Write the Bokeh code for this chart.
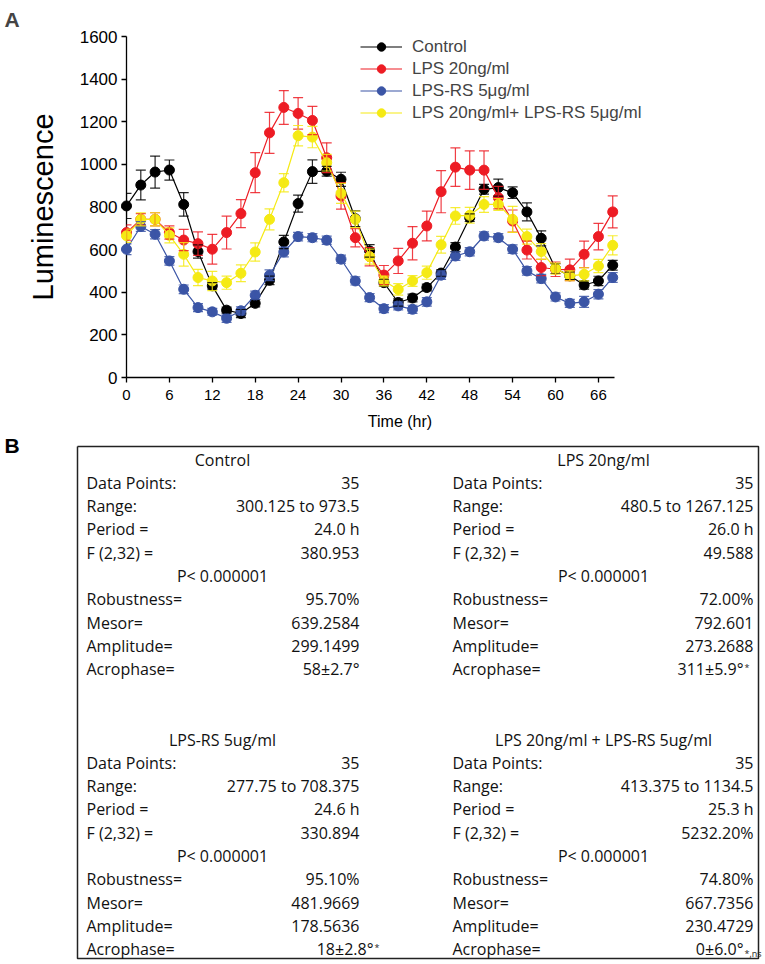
from bokeh.plotting import figure
from bokeh.models import (Range1d, FixedTicker, Whisker, TeeHead, ColumnDataSource,
                          Legend, LegendItem, Title)
from bokeh.layouts import column
from bokeh.embed import file_html
from bokeh.resources import INLINE
from bokeh.core.properties import value

# ---------------- data ----------------
hours = list(range(0, 69, 2))  # 35 time points, every 2 h

control = [805, 903, 964, 973.5, 812, 591, 430, 316, 300.125, 348, 456, 636, 816, 966, 968,
           930, 745, 594, 445, 352, 373, 422, 490, 612, 750, 883, 891, 867, 777, 653,
           511, 477, 434, 453, 527]
control_err = [59, 70, 75, 47, 55, 31, 15, 14, 19, 17, 20, 31, 40, 55, 23, 33, 37, 29, 16, 17,
               18, 16, 15, 21, 18, 23, 40, 27, 42, 35, 23, 18, 19, 22, 23]

lps = [680, 742, 742, 680, 645, 628, 602, 680, 769, 961, 1148, 1267.125, 1239, 1206, 1031,
       852, 656, 567, 480.5, 547, 630, 711, 872, 987, 973, 973, 844, 734, 598, 516,
       508, 505, 578, 661, 777]
lps_err = [36, 27, 31, 31, 50, 55, 70, 77, 66, 94, 96, 79, 74, 66, 70, 62, 43, 43, 45, 59,
           78, 70, 99, 90, 90, 90, 53, 52, 42, 38, 34, 50, 62, 62, 75]

lpsrs = [602, 708.375, 672, 547, 414, 328, 308, 277.75, 313, 386, 480, 589, 661, 656, 644,
         555, 453, 375, 323, 336, 320, 355, 480, 570, 590, 664, 656, 602, 500, 464,
         378, 348, 355, 391, 469]
lpsrs_err = [25, 23, 22, 20, 20, 19, 16, 19, 19, 19, 25, 23, 20, 19, 19, 19, 19, 19, 19, 19,
             19, 20, 20, 20, 19, 19, 19, 20, 20, 20, 19, 19, 26, 22, 23]

combo = [665, 742, 742, 667, 578, 469, 453, 445, 489, 589, 742, 914, 1134.5, 1128, 1008,
         864, 742, 567, 453, 413.375, 453, 492, 623, 758, 761, 812, 812, 742, 661, 591,
         511, 477, 484, 523, 620]
combo_err = [31, 31, 31, 35, 55, 38, 45, 31, 39, 43, 49, 43, 48, 50, 39, 47, 39, 35, 23, 27,
             25, 31, 39, 39, 37, 37, 28, 61, 35, 37, 26, 23, 31, 31, 45]

series_names = ["Control", "LPS 20ng/ml", "LPS-RS 5\u03bcg/ml", "LPS 20ng/ml+ LPS-RS 5\u03bcg/ml"]
series_values = [control, lps, lpsrs, combo]
series_errors = [control_err, lps_err, lpsrs_err, combo_err]
series_colors = ["#000000", "#ED1C24", "#3B55A6", "#F5EA14"]

x_ticks = list(range(0, 67, 6))
y_ticks = list(range(0, 1601, 200))

# table (panel B)
table_titles = ["Control", "LPS 20ng/ml", "LPS-RS 5ug/ml", "LPS 20ng/ml + LPS-RS 5ug/ml"]
stat_labels = ["Data Points:", "Range:", "Period =", "F (2,32) =", "", "Robustness=",
               "Mesor=", "Amplitude=", "Acrophase="]
control_stats = ["35", "300.125 to 973.5", "24.0 h", "380.953", "P< 0.000001", "95.70%",
                 "639.2584", "299.1499", "58\u00b12.7\u00b0"]
lps_stats = ["35", "480.5 to 1267.125", "26.0 h", "49.588", "P< 0.000001", "72.00%",
             "792.601", "273.2688", "311\u00b15.9\u00b0"]
lpsrs_stats = ["35", "277.75 to 708.375", "24.6 h", "330.894", "P< 0.000001", "95.10%",
               "481.9669", "178.5636", "18\u00b12.8\u00b0"]
combo_stats = ["35", "413.375 to 1134.5", "25.3 h", "5232.20%", "P< 0.000001", "74.80%",
               "667.7356", "230.4729", "0\u00b16.0\u00b0"]
acrophase_marks = ["", "*", "*", "*,ns"]
acrophase_shift = [0, -10, 14, -10]   # horizontal nudge of the acrophase value, px


def no_align(fig):
    try:
        fig.frame_align = False
    except Exception:
        pass


# ---------------- panel A ----------------
CF = "Liberation Sans"
W = 762
p = figure(width=W, height=432, x_range=Range1d(0, 76.5), y_range=Range1d(0, 1600),
           output_backend="svg", toolbar_location=None,
           min_border_left=126, min_border_right=89, min_border_top=36, min_border_bottom=54)
no_align(p)
p.outline_line_color = None
p.grid.visible = False
p.background_fill_color = "white"

for ax in (p.xaxis[0], p.yaxis[0]):
    ax.axis_line_color = "black"
    ax.axis_line_width = 1.3
    ax.major_tick_line_color = "black"
    ax.major_tick_line_width = 1.3
    ax.major_tick_out = 5
    ax.major_tick_in = 0
    ax.minor_tick_line_color = None
    ax.major_label_text_font = CF
    ax.major_label_text_color = "black"
    ax.axis_label_text_font = CF
    ax.axis_label_text_font_style = "normal"
    ax.axis_label_text_color = "black"

p.xaxis.ticker = FixedTicker(ticks=x_ticks)
p.yaxis.ticker = FixedTicker(ticks=y_ticks)
p.xaxis.bounds = (0, 68.3)
p.xaxis.major_label_text_font_size = "15px"
p.yaxis.major_label_text_font_size = "17px"
p.xaxis.major_label_standoff = 7
p.yaxis.major_label_standoff = 4
p.xaxis.axis_label = "Time (hr)"
p.xaxis.axis_label_text_font_size = "16px"
p.xaxis.axis_label_standoff = 10
p.yaxis.axis_label = "Luminescence"
p.yaxis.axis_label_text_font_size = "29px"
p.yaxis.axis_label_standoff = 18

items = []
for name, vals, errs, col in zip(series_names, series_values, series_errors, series_colors):
    src = ColumnDataSource(dict(x=hours, y=vals,
                                lo=[v - e for v, e in zip(vals, errs)],
                                hi=[v + e for v, e in zip(vals, errs)]))
    wh = Whisker(source=src, base="x", upper="hi", lower="lo", line_color=col, line_width=1.2,
                 line_alpha=0.85,
                 upper_head=TeeHead(size=10, line_color=col, line_width=1.2, line_alpha=0.85),
                 lower_head=TeeHead(size=10, line_color=col, line_width=1.2, line_alpha=0.85),
                 level="overlay")
    p.add_layout(wh)
    ln = p.line("x", "y", source=src, line_color=col, line_width=1.2, level="overlay")
    sc = p.scatter("x", "y", source=src, size=10, fill_color=col, line_color=col,
                   level="overlay")
    items.append(LegendItem(label=name, renderers=[ln, sc]))

legend = Legend(items=items, location=(234, 254), orientation="vertical",
                glyph_width=42, glyph_height=21, label_height=21, spacing=1,
                padding=0, margin=0, label_standoff=10,
                label_text_font=CF, label_text_font_size="17px",
                border_line_color=None, background_fill_alpha=0)
p.add_layout(legend)

p.add_layout(Title(text="A", align="left", vertical_align="top", offset=-122, text_font=CF,
                   text_font_size="21px", text_font_style="bold", standoff=8), "above")

# ---------------- panel B (page pixel coordinates) ----------------
TF = "Open Sans"
TOP = 432
t = figure(width=W, height=530, x_range=Range1d(0, W), y_range=Range1d(TOP + 530, TOP),
           output_backend="svg", toolbar_location=None, x_axis_location=None,
           y_axis_location=None, min_border=0, min_border_left=0, min_border_right=0,
           min_border_top=0, min_border_bottom=0)
no_align(t)
t.outline_line_color = None
t.grid.visible = False

t.text(x=[4], y=[445], text=["B"], text_font=value(CF), text_font_size="21px",
       text_font_style="bold", text_baseline="middle", text_align="left", text_color="black")

box_l, box_r, box_t, box_b = 77, 758, 446, 958
t.line([box_l, box_r, box_r, box_l, box_l], [box_t, box_t, box_b, box_b, box_t],
       line_color="#222222", line_width=1.5)

col_label_x = [86, 452]
col_value_x = [359, 753]
col_center_x = [222, 603]
block_title_y = [459, 739]
row_step = 23.3
all_stats = [control_stats, lps_stats, lpsrs_stats, combo_stats]

for gi, (title, stats, mark, shift) in enumerate(zip(table_titles, all_stats,
                                                      acrophase_marks, acrophase_shift)):
    c = gi % 2
    b = gi // 2
    y0 = block_title_y[b]
    tx, ty, ta = [col_center_x[c]], [y0], ["center"]
    tt = [title]
    for ri, (lab, val) in enumerate(zip(stat_labels, stats)):
        y = y0 + (ri + 1) * row_step
        if lab == "":
            tt.append(val); tx.append(col_center_x[c]); ty.append(y); ta.append("center")
            continue
        tt.append(lab); tx.append(col_label_x[c]); ty.append(y); ta.append("left")
        vx = col_value_x[c] + shift if lab == "Acrophase=" else col_value_x[c]
        tt.append(val); tx.append(vx); ty.append(y); ta.append("right")
        if lab == "Acrophase=" and mark:
            off = 4 if mark == "*,ns" else -2
            t.text(x=[vx + 1], y=[y + off], text=[mark], text_font=value(TF),
                   text_font_size="9px", text_baseline="middle", text_align="left",
                   text_color="#222222")
    src = ColumnDataSource(dict(x=tx, y=ty, text=tt, align=ta))
    t.text(x="x", y="y", text="text", source=src, text_align="align", text_baseline="middle",
           text_font=value(TF), text_font_size="16px", text_color="#111111")

layout = column(p, t, spacing=0)
open("out.html", "w").write(file_html(layout, INLINE))
